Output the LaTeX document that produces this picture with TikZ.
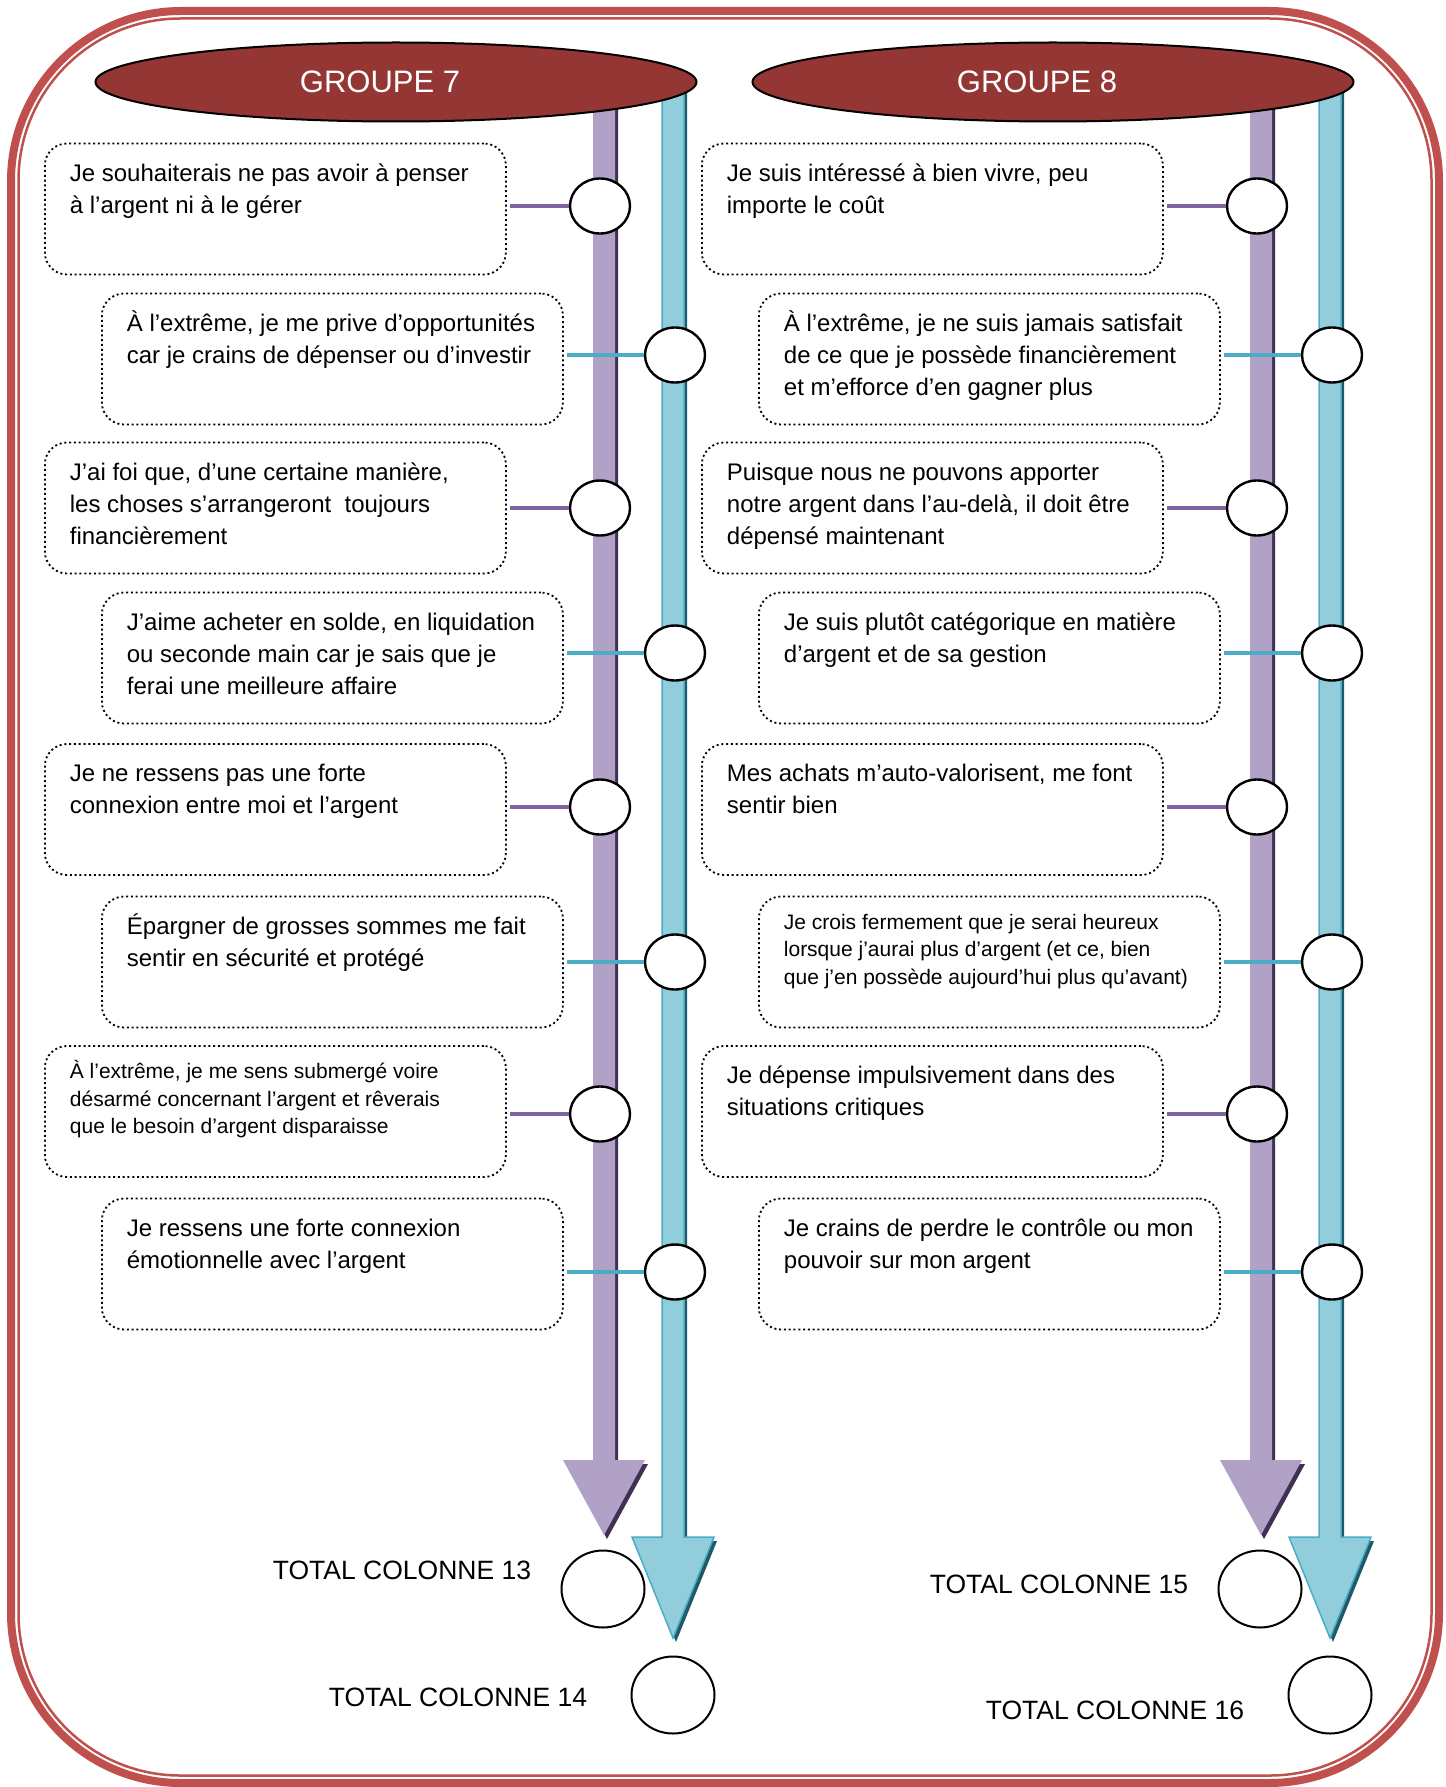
\documentclass[tikz,border=0pt]{standalone}
\usepackage{fontspec}
\setmainfont{Liberation Sans}
\usetikzlibrary{positioning,shapes.geometric}

\definecolor{rouge}{HTML}{C0504D}
\definecolor{bordeaux}{HTML}{943634}
\definecolor{mauveclair}{HTML}{B2A1C7}
\definecolor{mauve}{HTML}{8064A2}
\definecolor{mauvefonce}{HTML}{403152}
\definecolor{bleuclair}{HTML}{92CDDC}
\definecolor{bleu}{HTML}{4BACC6}
\definecolor{bleufonce}{HTML}{215968}

\newcommand\texte[1]{\parbox[c][131pt][t]{461pt}{\fontsize{24}{32}\selectfont\raggedright\leftskip=25pt\vspace*{15.5pt}\strut#1}}
\newcommand\textepetit[1]{\parbox[c][131pt][t]{461pt}{\fontsize{21}{27.5}\selectfont\raggedright\leftskip=25pt\vspace*{13.5pt}\strut#1}}

\begin{document}
\begin{tikzpicture}[x=1pt,y=-1pt,
  bulle/.style={draw, line width=1.8pt, dash pattern=on 2pt off 2.8pt, rounded corners=22pt, inner sep=0pt},
  rond/.style={draw, ellipse, line width=2.4pt, fill=white, minimum width=60pt, minimum height=55pt, inner sep=0pt},
  gros/.style={rond, line width=2pt, minimum width=83pt, minimum height=77pt},
  lien/.style={line width=4.5pt, shorten <=3pt},
  total/.style={font=\fontsize{26.5}{30}\selectfont},
  groupe/.style={draw=black, line width=2pt, fill=bordeaux, ellipse, inner sep=0pt, minimum width=601pt, minimum height=79pt},
  nomgroupe/.style={text=white, font=\fontsize{31}{36}\selectfont},
  flechemauve/.style={top color=mauveclair, middle color=mauve, bottom color=mauveclair},
  flechebleu/.style={top color=bleuclair, middle color=bleu, bottom color=bleuclair, draw=bleu, line width=1.5pt}]
\useasboundingbox (0,0) rectangle (1445,1787);
% cadre
\draw[rouge, line width=8pt, rounded corners=170pt] (11,11) rectangle (1439,1783);
\draw[rouge, line width=2.5pt, rounded corners=162pt] (18.5,18.5) rectangle (1431.5,1775.5);
\newcommand\fleche[5]{
\fill[#5, shift={(3,4)}] ({#1-11},84) -- ({#1+11},84) -- ({#1+11},#2) -- ({#1+41},#2) -- (#1,#3) -- ({#1-41},#2) -- ({#1-11},#2) -- cycle;
\shade[#4] ({#1-11},80) -- ({#1+11},80) -- ({#1+11},#2) -- ({#1+41},#2) -- (#1,#3) -- ({#1-41},#2) -- ({#1-11},#2) -- cycle;
}
\newcommand\colonne[5]{
\fleche{604}{1460}{1535}{flechemauve}{mauvefonce}
\fleche{673}{1537}{1638}{flechebleu}{bleufonce}
\node[groupe] (g) at (396,82) {};
\node[nomgroupe] at ([xshift=-16pt]g.center) {GROUPE #1};
\node[rond] (v1) at (600,206) {};
\node[rond] (v2) at (600,508) {};
\node[rond] (v3) at (600,807) {};
\node[rond] (v4) at (600,1114) {};
\node[rond] (b1) at (675,355) {};
\node[rond] (b2) at (675,653) {};
\node[rond] (b3) at (675,962) {};
\node[rond] (b4) at (675,1272) {};
\node[gros] (t1) at (603,1589) {};
\node[gros] (t2) at (673,1695) {};
\node[total] at (402,#4) {TOTAL COLONNE #2};
\node[total] at (458,#5) {TOTAL COLONNE #3};
}
\begin{scope}
\colonne{7}{13}{14}{1570}{1697}
\node[bulle, left=62pt of v1, yshift=-3pt] (q1) {\texte{Je souhaiterais ne pas avoir à penser\\à l’argent ni à le gérer}};
\node[bulle, left=80pt of b1, yshift=-4pt] (q2) {\texte{À l’extrême, je me prive d’opportunités\\car je crains de dépenser ou d’investir}};
\node[bulle, left=62pt of v2] (q3) {\texte{J’ai foi que, d’une certaine manière,\\les choses s’arrangeront\ \ toujours\\financièrement}};
\node[bulle, left=80pt of b2, yshift=-5pt] (q4) {\texte{J’aime acheter en solde, en liquidation\\ou seconde main car je sais que je\\ferai une meilleure affaire}};
\node[bulle, left=62pt of v3, yshift=-2.5pt] (q5) {\texte{Je ne ressens pas une forte\\connexion entre moi et l’argent}};
\node[bulle, left=80pt of b3] (q6) {\texte{Épargner de grosses sommes me fait\\sentir en sécurité et protégé}};
\node[bulle, left=62pt of v4, yshift=2.5pt] (q7) {\textepetit{À l’extrême, je me sens submergé voire\\désarmé concernant l’argent et rêverais\\que le besoin d’argent disparaisse}};
\node[bulle, left=80pt of b4, yshift=8pt] (q8) {\texte{Je ressens une forte connexion\\émotionnelle avec l’argent}};
\draw[lien, mauve] (q1.east |- v1) -- (v1);
\draw[lien, bleu] (q2.east |- b1) -- (b1);
\draw[lien, mauve] (q3.east |- v2) -- (v2);
\draw[lien, bleu] (q4.east |- b2) -- (b2);
\draw[lien, mauve] (q5.east |- v3) -- (v3);
\draw[lien, bleu] (q6.east |- b3) -- (b3);
\draw[lien, mauve] (q7.east |- v4) -- (v4);
\draw[lien, bleu] (q8.east |- b4) -- (b4);
\end{scope}
\begin{scope}[xshift=657pt]
\colonne{8}{15}{16}{1584}{1710}
\node[bulle, left=62pt of v1, yshift=-3pt] (q1) {\texte{Je suis intéressé à bien vivre, peu\\importe le coût}};
\node[bulle, left=80pt of b1, yshift=-4pt] (q2) {\texte{À l’extrême, je ne suis jamais satisfait\\de ce que je possède financièrement\\et m’efforce d’en gagner plus}};
\node[bulle, left=62pt of v2] (q3) {\texte{Puisque nous ne pouvons apporter\\notre argent dans l’au-delà, il doit être\\dépensé maintenant}};
\node[bulle, left=80pt of b2, yshift=-5pt] (q4) {\texte{Je suis plutôt catégorique en matière\\d’argent et de sa gestion}};
\node[bulle, left=62pt of v3, yshift=-2.5pt] (q5) {\texte{Mes achats m’auto-valorisent, me font\\sentir bien}};
\node[bulle, left=80pt of b3] (q6) {\textepetit{Je crois fermement que je serai heureux\\lorsque j’aurai plus d’argent (et ce, bien\\que j’en possède aujourd’hui plus qu’avant)}};
\node[bulle, left=62pt of v4, yshift=2.5pt] (q7) {\texte{Je dépense impulsivement dans des\\situations critiques}};
\node[bulle, left=80pt of b4, yshift=8pt] (q8) {\texte{Je crains de perdre le contrôle ou mon\\pouvoir sur mon argent}};
\draw[lien, mauve] (q1.east |- v1) -- (v1);
\draw[lien, bleu] (q2.east |- b1) -- (b1);
\draw[lien, mauve] (q3.east |- v2) -- (v2);
\draw[lien, bleu] (q4.east |- b2) -- (b2);
\draw[lien, mauve] (q5.east |- v3) -- (v3);
\draw[lien, bleu] (q6.east |- b3) -- (b3);
\draw[lien, mauve] (q7.east |- v4) -- (v4);
\draw[lien, bleu] (q8.east |- b4) -- (b4);
\end{scope}
\end{tikzpicture}
\end{document}
